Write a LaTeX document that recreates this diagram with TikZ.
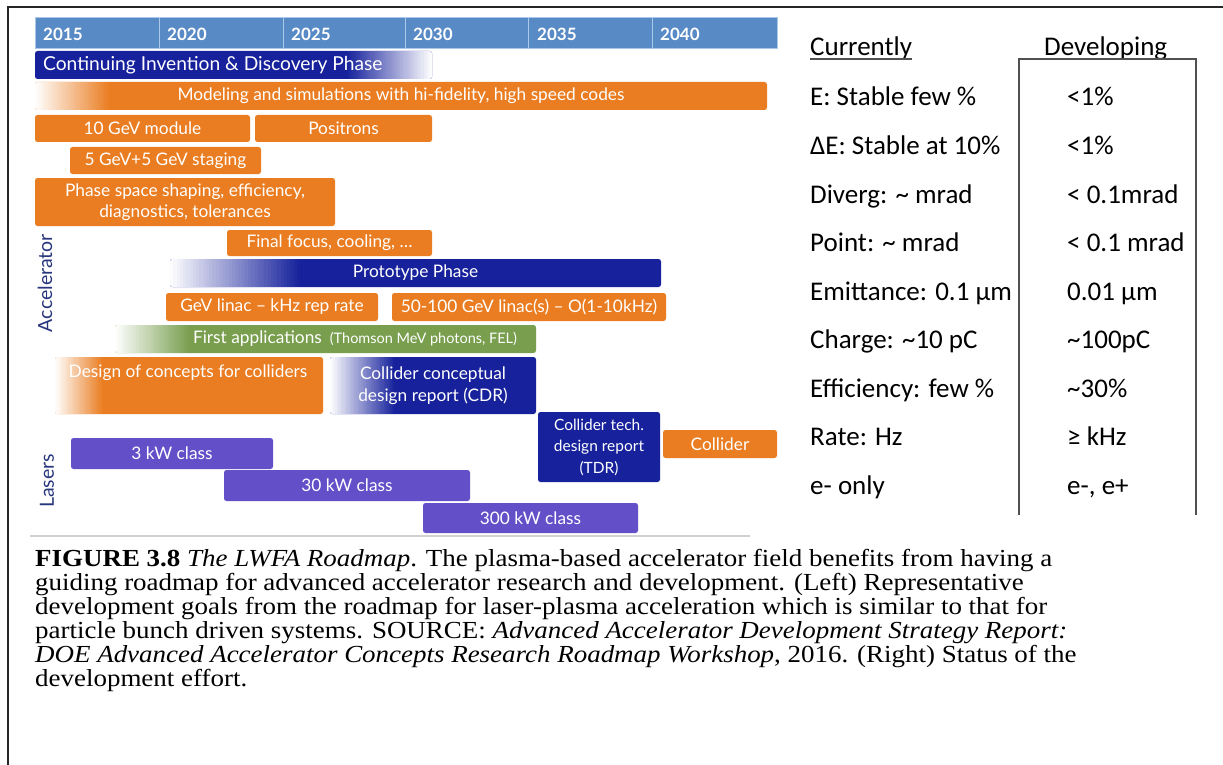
\documentclass[tikz,border=0pt]{standalone}
\usepackage{fontspec}
\setmainfont{Liberation Serif}[FakeStretch=1.10]
\newfontfamily\chartfont{Lato}
\newfontfamily\tabfont{Carlito}
\definecolor{rorange}{RGB}{234,125,33}
\definecolor{rblue}{RGB}{22,33,155}
\definecolor{rpurple}{RGB}{99,80,200}
\definecolor{rgreen}{RGB}{120,158,78}
\definecolor{rhead}{RGB}{88,138,198}
\definecolor{rheadline}{RGB}{170,200,232}
\definecolor{racc}{RGB}{40,55,125}
\definecolor{rtab}{RGB}{80,80,80}
\newcommand\rbar[6]{%
  \pgfmathsetmacro\rbw{#4-#2}\pgfmathsetmacro\rbh{#5-#3}%
  \node[#6, minimum width=\rbw pt, minimum height=\rbh pt] (#1) at ({(#2+#4)/2},{(#3+#5)/2})}
\begin{document}
\begin{tikzpicture}[x=1pt,y=-1pt,
  bar/.style={rounded corners=2.5pt, inner sep=0pt, outer sep=0pt, text=white,
    font=\chartfont\fontsize{17.3}{21.5}\selectfont, align=center},
  obar/.style={bar, fill=rorange},
  bbar/.style={bar, fill=rblue},
  pbar/.style={bar, fill=rpurple},
  gbar/.style={bar, fill=rgreen},
  fadeL/.style 2 args={path picture={\foreach \i in {0,...,39}{%
     \pgfmathsetmacro\pc{(\i+0.5)*2.5}%
     \fill[sharp corners, #1!\pc!white] ([xshift={\i*#2/40*1pt}]path picture bounding box.south west)
        rectangle ([xshift={(\i+1)*#2/40*1pt+0.4pt}]path picture bounding box.north west);}}},
  fadeR/.style 2 args={path picture={\foreach \i in {0,...,39}{%
     \pgfmathsetmacro\pc{100-(\i+0.5)*2.5}%
     \fill[sharp corners, #1!\pc!white] ([xshift={-#2*1pt+\i*#2/40*1pt}]path picture bounding box.south east)
        rectangle ([xshift={-#2*1pt+(\i+1)*#2/40*1pt+0.4pt}]path picture bounding box.north east);}}},
  lbl/.style={inner sep=0pt, text=white, font=\chartfont\fontsize{17.3}{21}\selectfont},
  yr/.style={inner sep=0pt, anchor=west, text=white, font=\chartfont\bfseries\fontsize{17}{20}\selectfont},
  side/.style={inner sep=0pt, rotate=90, text=racc, font=\chartfont\fontsize{19.5}{22}\selectfont},
  tab/.style={inner sep=0pt, anchor=base west, font=\tabfont\fontsize{27}{30}\selectfont},
  captxt/.style={inner sep=0pt, anchor=base west, font=\fontsize{24.5}{24}\selectfont},
  tline/.style={draw=rtab, line width=1.3pt}
]
\useasboundingbox (0,0) rectangle (1223,765);
\fill[white] (0,0) rectangle (1223,765);
% frame
\draw[line width=1.5pt, black!85] (8,765) -- (8,7) -- (1223,7);

% year header
\node[draw=rheadline, line width=1pt, fill=rhead, inner sep=0pt, minimum width=742pt, minimum height=31pt] (hdr) at (406,33.5) {};
\foreach \xx in {159,283,405,528,652} \draw[rheadline, line width=1pt] (\xx,18) -- (\xx,49);
\node[yr] (y15) at (43,34) {2015};
\node[yr] (y20) at (167,34) {2020};
\node[yr] (y25) at (291,34) {2025};
\node[yr] (y30) at (413,34) {2030};
\node[yr] (y35) at (537,34) {2035};
\node[yr] (y40) at (660,34) {2040};

% bars
\rbar{cont}{35}{51}{432}{79}{bbar, fadeR={rblue}{85}} {};
\node[lbl, anchor=west, font=\chartfont\fontsize{19.2}{21}\selectfont] (contt) at (43,65) {Continuing Invention \& Discovery Phase};
\rbar{model}{35}{82}{767}{110}{obar, fadeL={rorange}{75}} {Modeling and simulations with hi-fidelity, high speed codes};
\rbar{ten}{35}{115}{250}{142}{obar} {10 GeV module};
\rbar{posi}{255}{115}{432}{142}{obar} {Positrons};
\rbar{stag}{70}{147}{261}{174}{obar} {5 GeV+5 GeV staging};
\rbar{phase}{35}{178}{335}{226}{obar} {Phase space shaping, efficiency,\\diagnostics, tolerances};
\rbar{final}{227}{230}{432}{256}{obar} {Final focus, cooling, \dots};
\rbar{proto}{170}{259}{661}{287}{bbar, fadeL={rblue}{130}} {Prototype Phase};
\rbar{gevl}{166}{293}{378}{321}{obar} {GeV linac – kHz rep rate};
\rbar{fifty}{392}{293}{666}{321}{obar} {50-100 GeV linac(s) – O(1-10kHz)};
\rbar{first}{115}{325}{536}{353}{gbar, fadeL={rgreen}{75}} {};
\node[lbl] (firstt) at (355,339) {First applications\hspace{8pt}{\fontsize{14.5}{16}\selectfont(Thomson MeV photons, FEL)}};
\rbar{design}{55}{357}{323}{414}{obar, fadeL={rorange}{48}} {};
\node[lbl] (designt) at (188,373) {Design of concepts for colliders};
\rbar{cdr}{330}{357}{536}{414}{bbar, fadeL={rblue}{65}} {Collider conceptual\\design report (CDR)};
\rbar{tdr}{538}{412}{660}{482}{bbar, font=\chartfont\fontsize{15.5}{21.5}\selectfont} {Collider tech.\\design report\\(TDR)};
\rbar{coll}{663}{430}{777}{458}{obar} {Collider};
\rbar{k3}{71}{438}{273}{469}{pbar} {3 kW class};
\rbar{k30}{224}{470}{470}{501}{pbar} {30 kW class};
\rbar{k300}{423}{503}{638}{533}{pbar} {300 kW class};

\node[side] (acc) at (45,283) {Accelerator};
\node[side] (las) at (47,481) {Lasers};
\draw[black!18, line width=1.5pt] (30,536) -- (750,536);

% table
\node[tab] (hcur) at (810,56) {Currently};
\node[tab] (hdev) at (1044,56) {Developing};
\draw[tline] ([yshift=-3pt]hcur.base west) -- ([yshift=-3pt]hcur.base east);
\draw[tline] (1019,515) -- (1019,59) -- (1196,59) -- (1196,515);
\node[tab] (c1) at (810,106) {E: Stable few \%};
\node[tab] (d1) at (1067,106) {<1\%};
\node[tab] (c2) at (810,154.5) {ΔE: Stable at 10\%};
\node[tab] (d2) at (1067,154.5) {<1\%};
\node[tab] (c3) at (810,203) {Diverg: \textasciitilde{} mrad};
\node[tab] (d3) at (1067,203) {< 0.1mrad};
\node[tab] (c4) at (810,251.5) {Point: \textasciitilde{} mrad};
\node[tab] (d4) at (1067,251.5) {< 0.1 mrad};
\node[tab] (c5) at (810,300) {Emittance: 0.1 µm};
\node[tab] (d5) at (1067,300) {0.01 µm};
\node[tab] (c6) at (810,348.5) {Charge: \textasciitilde10 pC};
\node[tab] (d6) at (1067,348.5) {\textasciitilde100pC};
\node[tab] (c7) at (810,397) {Efficiency: few \%};
\node[tab] (d7) at (1067,397) {\textasciitilde30\%};
\node[tab] (c8) at (810,445.5) {Rate: Hz};
\node[tab] (d8) at (1067,445.5) {≥ kHz};
\node[tab] (c9) at (810,494) {e- only};
\node[tab] (d9) at (1067,494) {e-, e+};

% caption
\node[captxt] (cap1) at (35,566) {\textbf{FIGURE 3.8} \textit{The LWFA Roadmap}. The plasma-based accelerator field benefits from having a};
\node[captxt] (cap2) at (35,590) {guiding roadmap for advanced accelerator research and development. (Left) Representative};
\node[captxt] (cap3) at (35,614) {development goals from the roadmap for laser-plasma acceleration which is similar to that for};
\node[captxt] (cap4) at (35,638) {particle bunch driven systems. SOURCE: \textit{Advanced Accelerator Development Strategy Report:}};
\node[captxt] (cap5) at (35,662) {\textit{DOE Advanced Accelerator Concepts Research Roadmap Workshop}, 2016. (Right) Status of the};
\node[captxt] (cap6) at (35,686) {development effort.};
\end{tikzpicture}
\end{document}
